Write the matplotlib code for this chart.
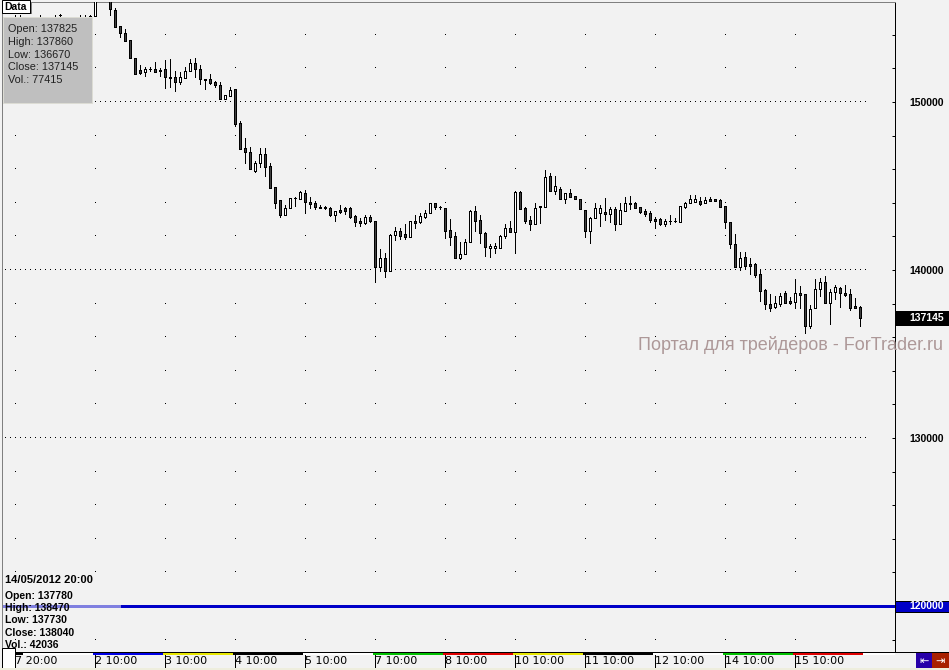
import numpy as np
import matplotlib
matplotlib.use("Agg")
import matplotlib.pyplot as plt
import matplotlib.transforms as mtrans
from matplotlib.patches import Rectangle
from matplotlib.lines import Line2D
from matplotlib.ticker import FixedLocator, MultipleLocator

plt.rcParams['font.family'] = ['Liberation Sans', 'DejaVu Sans']

W, H = 949, 670

# hourly candles, bars 0..15 sit mostly behind the data window
opens = [154700, 154600, 154500, 154650, 154700, 154800, 154600, 154500, 154700, 155180,
         154800, 154600, 154500, 154700, 154900, 154950, 155120, 156900, 157200, 156500,
         155475, 154525, 154105, 153690, 152620, 151905, 151785, 151965, 151965, 151905,
         151965, 151490, 151490, 151190, 151430, 151845, 152320, 151965, 151370, 151370,
         151190, 151010, 150180, 150355, 150775, 148750, 147260, 147025, 145895, 146370,
         146905, 146190, 144940, 144165, 143275, 143690, 144285, 144225, 144585, 144050,
         143990, 143750, 143750, 143690, 143275, 143570, 143690, 143690, 143215, 142915,
         142800, 143155, 142915, 140180, 140715, 139940, 142085, 142320, 142145, 141965,
         142915, 142855, 143155, 143395, 143990, 143750, 143690, 142380, 142025, 140715,
         140950, 141665, 143510, 142975, 142200, 141310, 141310, 141310, 142025, 142500,
         142260, 144645, 143690, 142975, 142740, 143750, 143750, 145595, 144700, 144820,
         144225, 144585, 144405, 144225, 143570, 142320, 143095, 143395, 143450, 143335,
         143630, 142740, 143510, 143990, 143990, 143750, 143510, 143395, 143035, 143035,
         142740, 142915, 142915, 142855, 143750, 143990, 144050, 144105, 143990, 144225,
         144225, 144165, 143810, 142855, 141550, 140180, 140775, 140355, 140355, 139760,
         138810, 137975, 137780, 137975, 138630, 138155, 138095, 138630, 138570, 136665,
         137740, 138870, 139285, 138035, 138690, 138930, 138630, 138570, 137855, 137825]
closes = [154600, 154500, 154650, 154700, 154800, 154600, 154500, 154700, 154750, 155180,
          154600, 154500, 154700, 154900, 154950, 155120, 156700, 157200, 156800, 155535,
          154465, 154105, 153630, 152620, 151665, 151725, 151965, 151965, 151785, 151845,
          151490, 151430, 151190, 151490, 151845, 152320, 151965, 151370, 151310, 151130,
          151010, 150180, 150415, 150715, 148690, 147200, 147025, 146010, 146370, 146905,
          146130, 144880, 143990, 143275, 143690, 144285, 144285, 144645, 144050, 143930,
          143750, 143690, 143690, 143275, 143510, 143450, 143510, 143155, 142855, 142800,
          143155, 142915, 140180, 140715, 139940, 142085, 142320, 142025, 141965, 142915,
          142800, 143215, 143395, 143990, 143750, 143750, 142320, 141965, 140715, 140950,
          141665, 143510, 142915, 142200, 141370, 141430, 141430, 142025, 142500, 142260,
          144645, 143630, 142915, 142740, 143690, 143810, 145535, 144700, 145000, 144225,
          144585, 144345, 144225, 143630, 142320, 143095, 143690, 143690, 143335, 143630,
          142740, 143570, 143990, 143930, 143690, 143450, 143335, 142975, 142915, 142740,
          142915, 142915, 142915, 143810, 143990, 144225, 144225, 143930, 144165, 144105,
          144105, 143750, 142855, 141550, 140180, 140715, 140240, 140240, 139700, 138750,
          137975, 137740, 138040, 138450, 138035, 138035, 138630, 138510, 136665, 137680,
          138870, 139285, 138035, 138690, 138990, 138630, 138510, 137740, 137740, 137145]
highs = [155150, 155150, 154800, 154850, 154900, 155150, 154750, 154800, 155200, 155250,
         154850, 154750, 154800, 155150, 155200, 155180, 157000, 157500, 157500, 156800,
         155595, 154525, 154345, 153690, 152620, 152200, 152085, 152085, 152380, 152025,
         152500, 152560, 151845, 151785, 152085, 152560, 152620, 152200, 151370, 151665,
         151250, 151190, 150415, 150895, 150775, 148870, 147855, 147320, 146490, 147260,
         147260, 146370, 144940, 144165, 143870, 144285, 144345, 144700, 144760, 144345,
         144105, 143870, 143810, 143750, 143510, 143870, 143750, 143750, 143275, 143095,
         143275, 143275, 142915, 141250, 141010, 142145, 142560, 142500, 142740, 142915,
         143275, 143395, 143570, 143990, 143990, 143810, 143690, 143035, 142260, 141665,
         141845, 143570, 143810, 143275, 142260, 141550, 141605, 142085, 142740, 142915,
         144700, 144700, 143750, 143215, 143990, 143810, 145950, 145775, 145595, 144940,
         144585, 144820, 144405, 144225, 143570, 143155, 143990, 143870, 144285, 143750,
         143750, 143990, 144345, 144405, 144050, 143750, 143630, 143510, 143155, 143095,
         143035, 143275, 143095, 143810, 144050, 144465, 144465, 144345, 144345, 144345,
         144225, 144225, 143810, 142855, 142145, 141070, 141070, 140715, 140415, 140060,
         138870, 138570, 138470, 138630, 138750, 138395, 139465, 139050, 138570, 137915,
         139465, 139525, 139645, 138870, 139105, 138990, 139105, 138870, 138335, 137860]
lows = [154400, 154350, 154300, 154500, 154550, 154500, 154350, 154300, 154550, 154950,
        154450, 154350, 154400, 154550, 154750, 154800, 155120, 156700, 156600, 155180,
        154465, 153870, 153630, 152620, 151665, 151665, 151550, 151845, 151785, 151550,
        150835, 150895, 150655, 151070, 151430, 151845, 151490, 151070, 150775, 151070,
        150895, 150180, 150180, 150355, 148570, 147200, 146370, 146010, 145835, 146130,
        145595, 144880, 143690, 143155, 143275, 143690, 143810, 144225, 143395, 143690,
        143630, 143690, 143630, 143215, 142915, 143395, 143335, 143095, 142620, 142620,
        142740, 142855, 139285, 139940, 139585, 139940, 141785, 141845, 141845, 141965,
        142500, 142800, 143095, 143395, 143630, 143630, 141905, 141490, 140715, 140655,
        140950, 141665, 142320, 141605, 140835, 140775, 141010, 141310, 141905, 142260,
        141010, 143630, 142800, 142380, 142740, 142800, 143750, 144700, 144525, 144225,
        143990, 144345, 144225, 143630, 141965, 141605, 143095, 142620, 142975, 142855,
        142380, 142740, 143510, 143630, 143690, 143395, 143215, 142855, 142500, 142680,
        142620, 142740, 142855, 142855, 143690, 143990, 144050, 143870, 143990, 144105,
        144105, 143750, 142500, 141310, 140180, 140000, 140120, 139760, 139585, 138155,
        137680, 137560, 137730, 137855, 138035, 137975, 137740, 137740, 136250, 136550,
        137740, 138450, 138035, 136785, 138275, 137800, 138450, 137620, 137740, 136670]

day_start = [0, 16, 30, 44, 58, 72, 86, 100, 114, 128, 142, 156]
day_labels = ['7 20:00', '2 10:00', '3 10:00', '4 10:00', '5 10:00', '7 10:00',
              '8 10:00', '10 10:00', '11 10:00', '12 10:00', '14 10:00', '15 10:00']
day_colors = ['#ffffff', '#0000e6', '#e6e600', '#000000', '#ffffff', '#00c000',
              '#e00000', '#e6e600', '#000000', '#ffffff', '#00c000', '#e00000']

major_levels = [120000, 130000, 140000, 150000]
ref_level = 120000
last_info = ['Open: 137825', 'High: 137860', 'Low: 136670', 'Close: 137145', 'Vol.: 77415']
hover_date = '14/05/2012 20:00'
hover_info = ['Open: 137780', 'High: 138470', 'Low: 137730', 'Close: 138040', 'Vol.: 42036']
watermark = 'Портал для трейдеров - ForTrader.ru'

BG = '#f2f2f2'
YLO, YHI = 117262, 155952
XLO, XHI = -2.6, 176
AXW, AXH = 893, 650
unit = (YHI - YLO) / AXH  # price per pixel
PX = 0.72  # one pixel in points

fig = plt.figure(figsize=(W / 100, H / 100), dpi=100, facecolor=BG)
ax = fig.add_axes([2 / W, (H - 652) / H, AXW / W, AXH / H], facecolor=BG)
ax.set_xlim(XLO, XHI)
ax.set_ylim(YLO, YHI)

x = np.arange(len(opens))
o = np.array(opens, float)
c = np.array(closes, float)
h = np.array(highs, float)
l = np.array(lows, float)
up = c >= o

# dotted grid
gx = np.arange(-2, 171)
for lv in major_levels:
    ax.plot(gx, np.full(len(gx), lv), ',', color='black', zorder=1)
minor_lv = [v for v in range(118000, 156000, 2000) if v % 10000]
for d in day_start:
    ax.plot(np.full(len(minor_lv), d), minor_lv, ',', color='black', zorder=1)

# reference line
ax.axhline(ref_level, xmin=0, xmax=120 / AXW, color='#8080e0', lw=3 * PX, zorder=2)
ax.axhline(ref_level, xmin=120 / AXW, xmax=1, color='#0000c8', lw=3 * PX, zorder=2)

# candles
ax.vlines(x, l, h, color='black', lw=PX, zorder=3, antialiased=False)
ax.bar(x[up], c[up] - o[up], bottom=o[up], width=0.5, color='white',
       edgecolor='black', lw=PX, zorder=4, antialiased=False)
ax.bar(x[~up], c[~up] - o[~up], bottom=o[~up], width=0.5, color='#404040',
       edgecolor='black', lw=PX, zorder=4, antialiased=False)

# axes styling
for s in ['top', 'left']:
    ax.spines[s].set_color('#808080')
    ax.spines[s].set_linewidth(PX)
for s in ['right', 'bottom']:
    ax.spines[s].set_color('black')
    ax.spines[s].set_linewidth(PX)

ax.yaxis.tick_right()
ax.yaxis.set_major_locator(FixedLocator(major_levels))
ax.yaxis.set_minor_locator(MultipleLocator(2000))
ax.set_yticklabels([str(v) for v in major_levels], fontweight='bold', fontsize=7.5)
ax.tick_params(axis='y', which='major', direction='in', length=2.5, width=PX, pad=10,
               left=False, right=True)
ax.tick_params(axis='y', which='minor', direction='in', length=2.0, width=PX,
               left=False, right=True)

ax.set_xticks(day_start, labels=day_labels, ha='left', fontfamily='DejaVu Sans', fontsize=8)
ax.tick_params(axis='x', direction='out', length=11.5, width=PX, pad=-8.6, top=False)

# weekday band under the time axis
blend = mtrans.blended_transform_factory(ax.transData, ax.transAxes)
edges = [0, 1.5] + [d - 0.5 for d in day_start[1:]] + [len(opens) - 0.5, XHI]
cols = ['#000000'] + day_colors + ['#ffffff']
for i in range(len(cols)):
    ax.add_patch(Rectangle((edges[i], -3.2 / AXH), edges[i + 1] - edges[i], 2.6 / AXH,
                           transform=blend, color=cols[i], lw=0, clip_on=False, zorder=5))

# price tags on the right axis
tag = mtrans.blended_transform_factory(ax.transAxes, ax.transData)


def price_tag(val, bg, hh):
    ax.add_patch(Rectangle((1.0, val - hh / 2 * unit), 54 / AXW, hh * unit, transform=tag,
                           facecolor=bg, edgecolor='black', lw=PX, clip_on=False, zorder=6))
    ax.text(1 + 14 / AXW, val, str(val), transform=tag, ha='left', va='center',
            color='white', fontweight='bold', fontsize=7.5, clip_on=False, zorder=7)


price_tag(closes[-1], 'black', 14)
price_tag(ref_level, '#0000c8', 11)


def frect(x0, y0, x1, y1, **kw):
    fig.add_artist(Rectangle((x0 / W, 1 - y1 / H), (x1 - x0) / W, (y1 - y0) / H,
                             transform=fig.transFigure, **kw))


def ftext(px, py, s, **kw):
    fig.text(px / W, 1 - py / H, s, **kw)


# bottom line continues under the price scale
fig.add_artist(Line2D([895 / W, 1], [1 - 652 / H] * 2, color='black', lw=PX))

# data window
frect(3, 17, 92, 103, facecolor='#bfbfbf', edgecolor='#dcdcd4', lw=PX)
for i, s in enumerate(last_info):
    ftext(8, 29 + i * 12.8, s, va='center', fontsize=7.8, color='#202020')
frect(30, 2, 32, 14, facecolor='#808080', lw=0)
frect(2, 0, 30, 13, facecolor='white', edgecolor='black', lw=PX)
ftext(4, 7, 'Data', va='center', fontweight='bold', fontsize=7.5)

# hovered bar info
ftext(5, 580, hover_date, va='center', fontweight='bold', fontsize=8)
for i, s in enumerate(hover_info):
    ftext(5, 596 + i * 12.2, s, va='center', fontweight='bold', fontsize=7.5)

ftext(943, 345, watermark, ha='right', va='center', fontsize=13, color='#ad9898')

# corner boxes and scroll buttons
frect(2, 648, 15, 668, facecolor='white', edgecolor='black', lw=PX)
frect(916, 653, 932, 668, facecolor='#2800a8', lw=0)
frect(932, 653, 949, 668, facecolor='#a82000', lw=0)
ftext(924, 661, '⇤', ha='center', va='center', color='white', fontsize=8,
      fontfamily='DejaVu Sans')
ftext(940.5, 661, '⇥', ha='center', va='center', color='white', fontsize=8,
      fontfamily='DejaVu Sans')
frect(0, 668, 949, 670, facecolor='#eeeedd', lw=0)

fig.savefig('out.png', dpi=100, facecolor=BG)
